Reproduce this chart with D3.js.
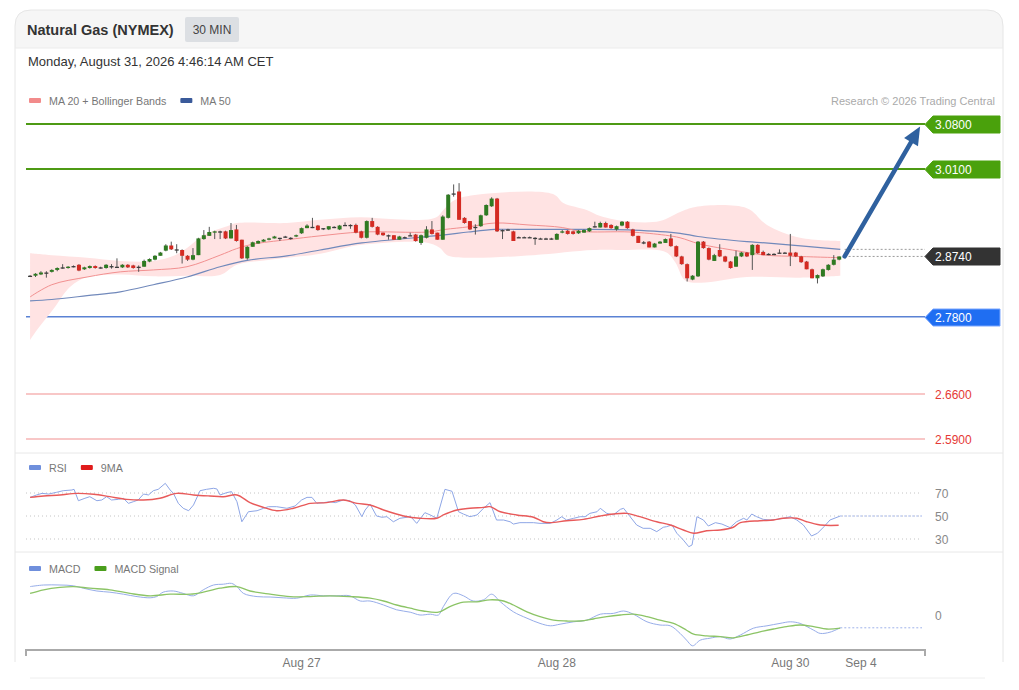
<!DOCTYPE html>
<html>
<head>
<meta charset="UTF-8">
<title>Natural Gas (NYMEX) 30 MIN</title>
<script src="https://cdn.jsdelivr.net/npm/d3@7"></script>
<style>
    body {
        margin: 0;
        background: #fff;
        font-family: "Liberation Sans", Arial, sans-serif;
    }
    svg text {
        font-family: "Liberation Sans", Arial, sans-serif;
    }
</style>
</head>
<body>
<svg id="chart" width="1019" height="690"></svg>
<script>
    // candles, 30 min each: [open, high, low, close]
    var ohlc = [
        [2.843,2.845,2.842,2.844],[2.844,2.848,2.842,2.847],[2.846,2.851,2.845,2.849],[2.849,2.851,2.841,2.848],
        [2.850,2.854,2.849,2.853],[2.853,2.857,2.851,2.856],[2.856,2.862,2.855,2.857],[2.856,2.859,2.855,2.858],
        [2.858,2.860,2.857,2.859],[2.861,2.862,2.851,2.852],[2.854,2.858,2.853,2.857],[2.856,2.860,2.855,2.859],
        [2.859,2.860,2.855,2.856],[2.857,2.858,2.855,2.857],[2.856,2.862,2.855,2.861],[2.858,2.862,2.855,2.859],
        [2.858,2.871,2.857,2.858],[2.857,2.862,2.856,2.861],[2.861,2.862,2.856,2.857],[2.860,2.861,2.855,2.856],
        [2.858,2.860,2.850,2.858],[2.858,2.869,2.858,2.867],[2.866,2.871,2.865,2.870],[2.869,2.876,2.868,2.875],
        [2.875,2.881,2.875,2.880],[2.883,2.893,2.882,2.891],[2.891,2.897,2.884,2.885],[2.885,2.893,2.879,2.884],
        [2.884,2.885,2.863,2.875],[2.875,2.876,2.867,2.869],[2.869,2.887,2.868,2.876],[2.876,2.903,2.876,2.902],
        [2.901,2.915,2.900,2.907],[2.906,2.920,2.906,2.912],[2.911,2.914,2.901,2.913],[2.913,2.914,2.901,2.912],
        [2.913,2.914,2.901,2.902],[2.902,2.926,2.902,2.915],[2.916,2.923,2.897,2.898],[2.900,2.900,2.870,2.871],
        [2.871,2.890,2.869,2.889],[2.889,2.897,2.889,2.896],[2.894,2.899,2.894,2.898],[2.897,2.901,2.897,2.900],
        [2.900,2.903,2.899,2.902],[2.902,2.906,2.902,2.905],[2.903,2.903,2.898,2.902],[2.904,2.906,2.903,2.905],
        [2.903,2.904,2.900,2.903],[2.905,2.908,2.904,2.907],[2.910,2.919,2.909,2.918],[2.918,2.924,2.918,2.922],
        [2.920,2.934,2.918,2.919],[2.922,2.923,2.914,2.915],[2.918,2.918,2.915,2.917],[2.916,2.921,2.915,2.921],
        [2.919,2.921,2.918,2.920],[2.916,2.923,2.915,2.922],[2.923,2.927,2.922,2.923],[2.923,2.924,2.917,2.922],
        [2.923,2.925,2.910,2.911],[2.913,2.914,2.902,2.903],[2.903,2.930,2.902,2.929],[2.929,2.934,2.919,2.920],
        [2.920,2.921,2.907,2.908],[2.911,2.911,2.906,2.907],[2.907,2.908,2.900,2.907],[2.907,2.907,2.900,2.900],
        [2.900,2.906,2.900,2.905],[2.904,2.905,2.902,2.903],[2.907,2.911,2.906,2.907],[2.908,2.909,2.897,2.898],
        [2.895,2.908,2.892,2.907],[2.903,2.921,2.902,2.916],[2.916,2.929,2.908,2.909],[2.911,2.911,2.900,2.900],
        [2.900,2.938,2.900,2.936],[2.934,2.971,2.933,2.970],[2.972,2.986,2.967,2.971],[2.975,2.988,2.931,2.931],
        [2.934,2.935,2.925,2.926],[2.929,2.929,2.915,2.916],[2.920,2.924,2.908,2.919],[2.921,2.939,2.920,2.938],
        [2.938,2.955,2.937,2.954],[2.952,2.966,2.951,2.964],[2.964,2.965,2.912,2.913],[2.915,2.916,2.901,2.914],
        [2.916,2.917,2.914,2.915],[2.913,2.914,2.898,2.898],[2.904,2.905,2.903,2.903],[2.904,2.905,2.903,2.904],
        [2.904,2.905,2.903,2.903],[2.903,2.904,2.892,2.902],[2.902,2.903,2.901,2.901],[2.902,2.903,2.900,2.901],
        [2.901,2.903,2.900,2.902],[2.900,2.910,2.900,2.909],[2.911,2.915,2.910,2.913],[2.914,2.915,2.908,2.909],
        [2.913,2.914,2.908,2.909],[2.910,2.915,2.909,2.914],[2.911,2.916,2.911,2.915],[2.913,2.919,2.912,2.918],
        [2.921,2.928,2.919,2.920],[2.919,2.928,2.919,2.926],[2.926,2.928,2.919,2.919],[2.923,2.924,2.917,2.918],
        [2.916,2.922,2.914,2.921],[2.922,2.929,2.921,2.928],[2.928,2.929,2.917,2.918],[2.916,2.917,2.905,2.906],
        [2.906,2.906,2.895,2.895],[2.896,2.898,2.893,2.895],[2.897,2.898,2.888,2.888],[2.888,2.895,2.888,2.894],
        [2.894,2.898,2.894,2.897],[2.895,2.902,2.895,2.901],[2.902,2.909,2.889,2.890],[2.890,2.891,2.873,2.874],
        [2.874,2.875,2.861,2.862],[2.862,2.863,2.835,2.840],[2.838,2.845,2.837,2.844],[2.843,2.898,2.842,2.897],
        [2.897,2.898,2.886,2.887],[2.887,2.888,2.868,2.869],[2.867,2.878,2.867,2.876],[2.884,2.893,2.873,2.874],
        [2.874,2.875,2.865,2.866],[2.866,2.867,2.855,2.856],[2.858,2.883,2.858,2.874],[2.874,2.881,2.873,2.880],
        [2.880,2.881,2.873,2.874],[2.876,2.893,2.853,2.892],[2.892,2.893,2.878,2.879],[2.881,2.883,2.876,2.876],
        [2.878,2.879,2.876,2.877],[2.877,2.879,2.876,2.878],[2.879,2.885,2.879,2.880],[2.880,2.881,2.879,2.879],
        [2.880,2.909,2.859,2.875],[2.880,2.881,2.873,2.874],[2.874,2.875,2.864,2.865],[2.866,2.867,2.854,2.854],
        [2.854,2.855,2.840,2.840],[2.840,2.846,2.832,2.845],[2.843,2.855,2.842,2.854],[2.853,2.862,2.852,2.861],
        [2.861,2.876,2.860,2.869],[2.869,2.874,2.868,2.874]
    ];

    // indicator readings: [candle index, value]
    var ma20 = [[0,2.811],[4,2.830],[10.5,2.842],[16.6,2.850],[22.7,2.853],[28.9,2.858],[35,2.876],[38,2.886],[41,2.893],
        [47.3,2.900],[53.4,2.906],[61.1,2.912],[73.3,2.912],[76.4,2.916],[80.7,2.920],[85.6,2.926],[91.7,2.923],[98,2.919],
        [101.3,2.913],[110.5,2.912],[117,2.907],[119.7,2.903],[123,2.894],[125.8,2.889],[129.3,2.884],[135.4,2.876],
        [141.4,2.874],[149.2,2.872]];
    var bbUpper = [[0,2.879],[4,2.876],[10.5,2.872],[16.6,2.867],[22.7,2.867],[26.7,2.876],[28.9,2.887],[31.9,2.907],
        [36.3,2.921],[38.1,2.926],[47.3,2.926],[53.4,2.931],[60.8,2.935],[67.2,2.932],[74.6,2.934],[76.4,2.949],[78.3,2.962],
        [83.4,2.971],[96.3,2.971],[98.2,2.957],[102.6,2.946],[105,2.937],[110.5,2.928],[116,2.929],[119.7,2.943],
        [122.5,2.951],[132,2.949],[135.7,2.923],[141.8,2.903],[149.2,2.898]];
    var bbLower = [[0,2.744],[1.3,2.760],[4.2,2.791],[7.4,2.827],[10.5,2.842],[16.6,2.846],[22.7,2.843],[28.9,2.844],
        [35,2.845],[38.1,2.861],[44.2,2.869],[53.4,2.878],[61.1,2.892],[73.3,2.895],[75.5,2.887],[76.8,2.876],[80.5,2.872],
        [92.6,2.876],[103.7,2.884],[108.7,2.884],[117,2.881],[118.8,2.865],[120.6,2.837],[123.4,2.833],[132,2.842],
        [141.8,2.841],[149.2,2.844]];
    var ma50 = [[0,2.805],[4,2.807],[10.5,2.813],[16.6,2.819],[22.7,2.830],[28.9,2.842],[35,2.858],[40,2.868],[47.3,2.875],
        [53.4,2.884],[61.1,2.895],[75.9,2.907],[80.7,2.912],[85.6,2.916],[91.7,2.916],[100.4,2.916],[110.9,2.915],
        [119.7,2.910],[123,2.905],[132,2.897],[135.4,2.895],[149.2,2.885]];

    var rsi = [[0,66.2],[1.2,68.3],[2.2,69.7],[3.4,69.1],[4.9,70.6],[6.1,72.0],[7.7,72.6],[8.1,73.2],[8.9,63.3],[10.1,65.4],
        [11,66.8],[12.3,63.3],[13.2,63.9],[14.1,66.8],[15,63.9],[16.3,64.5],[17.2,65.4],[18.1,61.0],[19,62.4],[19.9,63.9],
        [20.9,69.1],[21.8,68.3],[22.7,72.0],[23.6,73.2],[24.9,78.4],[25.8,72.6],[26.4,69.7],[27.3,61.0],[28.2,56.7],
        [29.2,54.6],[30.1,59.6],[31.3,72.0],[32.5,73.2],[33.8,74.1],[34.4,73.5],[35,68.3],[36.2,70.3],[37.1,71.2],
        [38.1,62.4],[39,45.0],[40.2,53.7],[41.8,54.6],[43,56.7],[43.9,58.1],[45.4,58.1],[47.3,56.7],[48.8,58.7],[50,63.9],
        [51,66.2],[51.9,66.2],[52.8,61.0],[54,61.6],[55.2,62.4],[56.2,61.6],[57.7,63.9],[58.9,63.3],[59.9,59.6],[61.1,49.4],
        [61.7,55.2],[62.6,60.4],[63.8,50.0],[64.8,48.9],[65.7,49.4],[66.9,45.0],[68.1,48.0],[69.4,48.9],[70,50.0],
        [71.2,43.6],[72.7,52.9],[73.7,50.9],[74.9,48.0],[76.4,73.2],[77.7,71.5],[78.9,53.7],[79.8,51.7],[81,49.4],
        [82.3,50.9],[83.5,56.7],[84.7,61.6],[85.9,46.5],[87.2,46.5],[88.4,45.0],[89,43.0],[90.2,44.2],[91.5,44.2],
        [92.7,44.2],[93.9,43.6],[95.8,43.6],[97,46.5],[97.9,49.4],[98.8,46.5],[100.1,48.0],[101.3,49.4],[102.2,49.4],
        [103.1,52.3],[104.4,53.7],[105,56.7],[106.2,52.3],[107.4,50.9],[108.7,55.8],[109.3,56.7],[110.5,49.4],[111.7,42.2],
        [112.9,39.3],[114.2,39.3],[115.4,36.4],[116.6,40.2],[117.2,40.7],[118.2,42.2],[119.1,35.0],[120.3,29.1],
        [121.3,23.3],[121.9,24.8],[122.8,49.4],[124,46.5],[124.9,41.3],[126.2,44.2],[127.4,43.0],[128.9,39.9],[130.1,45.0],
        [131.4,48.0],[132,46.5],[132.9,51.7],[133.8,49.4],[135,47.1],[136.3,46.5],[137.5,47.1],[138.7,48.0],[140,49.4],
        [141.2,46.5],[142.4,42.2],[143.9,32.6],[145,35.0],[146.2,40.7],[147.3,46.5],[149.2,50.0]];
    var rsiMa = [[0,66.2],[2.5,67.4],[5.5,68.3],[8.6,69.7],[11.7,68.9],[14.7,66.8],[17.8,64.5],[20.9,63.9],[23.9,65.4],
        [27,69.7],[30.1,68.3],[33.1,67.4],[35.6,66.8],[38.1,68.3],[40.5,61.6],[43,57.5],[45.4,54.6],[48.5,56.7],[51.6,61.0],
        [54.6,61.6],[57.7,63.9],[60.2,61.0],[62.6,59.6],[65.1,55.2],[68.8,50.0],[71.8,48.0],[74.9,48.0],[76.1,50.9],
        [78.6,55.2],[81,56.7],[83.5,57.5],[84.7,58.1],[86.6,53.7],[89.6,50.9],[92.7,48.9],[94.5,45.0],[95.8,44.2],
        [98.8,45.9],[101.9,47.1],[105,50.0],[107.4,51.7],[109.9,52.3],[112.3,49.4],[115.4,45.0],[117.9,42.2],[120.3,37.8],
        [122.2,35.0],[124.6,37.2],[127.1,37.8],[129.5,40.2],[130.8,44.2],[134.4,45.9],[136.9,46.5],[138.7,48.0],
        [141.2,48.0],[143,45.0],[145.5,42.2],[148.9,41.9]];

    var macd = [[0,0.0071],[2.5,0.0075],[5.5,0.0075],[8,0.0073],[9.8,0.0067],[12.3,0.0060],[14.7,0.0057],[17.2,0.0052],
        [19.7,0.0046],[22.1,0.0043],[23.3,0.0046],[24.5,0.0057],[26.4,0.0060],[28.2,0.0054],[30.1,0.0048],[31.9,0.0063],
        [33.8,0.0075],[35.6,0.0077],[37.1,0.0079],[38.1,0.0071],[39.3,0.0054],[41.8,0.0046],[44.2,0.0045],[46.6,0.0043],
        [49.1,0.0042],[51.6,0.0050],[54,0.0048],[56.5,0.0048],[58.9,0.0048],[60.8,0.0035],[62.6,0.0035],[65.1,0.0025],
        [67.5,0.0013],[70,0.0007],[71.8,0.0000],[73.7,0.0002],[75.2,0.0000],[76.1,0.0021],[78,0.0054],[79.8,0.0048],
        [81.6,0.0035],[83.5,0.0038],[85,0.0052],[86.6,0.0033],[89,0.0008],[91.5,-0.0008],[93.9,-0.0021],[95.8,-0.0027],
        [97.6,-0.0023],[100.1,-0.0017],[102.5,-0.0013],[105,0.0002],[107.4,0.0004],[109.3,0.0010],[111.1,0.0002],
        [113.6,-0.0017],[116,-0.0025],[117.9,-0.0027],[119.7,-0.0046],[120.9,-0.0063],[122,-0.0077],[123.4,-0.0063],
        [125.2,-0.0058],[127.1,-0.0054],[128.9,-0.0060],[130.8,-0.0050],[133.2,-0.0033],[135.7,-0.0027],[138.1,-0.0021],
        [140,-0.0017],[141.8,-0.0021],[144.3,-0.0038],[145.5,-0.0046],[147.3,-0.0043],[149.2,-0.0032]];
    var macdSignal = [[0,0.0054],[2.5,0.0063],[5.5,0.0069],[8,0.0071],[11,0.0067],[14.7,0.0063],[18.4,0.0054],[22.1,0.0048],
        [25.8,0.0052],[29.5,0.0052],[31.9,0.0057],[35,0.0067],[38.1,0.0071],[40.5,0.0060],[44.2,0.0052],[47.9,0.0046],
        [51.6,0.0046],[55.2,0.0048],[58.9,0.0046],[62.6,0.0042],[65.1,0.0035],[67.5,0.0025],[70,0.0017],[72.4,0.0010],
        [75.2,0.0007],[77.3,0.0021],[79.8,0.0032],[82.3,0.0033],[84.7,0.0038],[87.2,0.0035],[89,0.0025],[91.5,0.0008],
        [93.9,-0.0004],[96.4,-0.0013],[98.8,-0.0015],[101.3,-0.0015],[103.7,-0.0010],[106.2,-0.0004],[108.7,0.0000],
        [111.1,0.0002],[113.6,-0.0004],[116,-0.0013],[118.5,-0.0021],[120.9,-0.0038],[122.2,-0.0048],[124.6,-0.0052],
        [127.1,-0.0054],[129.5,-0.0057],[132,-0.0050],[134.4,-0.0042],[136.9,-0.0035],[139.3,-0.0029],[141.8,-0.0025],
        [144.3,-0.0029],[146.7,-0.0035],[149.2,-0.0033]];

    // key levels
    var resistances = [3.08, 3.01];
    var pivot = 2.78;
    var supports = [2.66, 2.59];
    var arrowEnd = [163.9, 3.076];

    var rsiTicks = [70, 50, 30];
    var macdTicks = [0];
    var tickIndex = [50, 97, 140, 153];
    var tickLabels = ["Aug 27", "Aug 28", "Aug 30", "Sep 4"];

    var svg = d3.select("#chart");
    var fmt = d3.format(".4f");
    var last = ohlc.length - 1;

    var x = d3.scaleLinear().domain([-0.75, 164.8]).range([26, 925]);
    var y = d3.scaleLinear().domain([2.59, 3.08]).range([439, 124]);
    var yRsi = d3.scaleLinear().domain([30, 70]).range([539, 493]);
    var yMacd = d3.scaleLinear().domain([0, 0.008]).range([615, 583]);

    // card frame + header
    svg.append("path")
        .attr("d", "M15,48 V26 Q15,10 31,10 H987 Q1003,10 1003,26 V48 Z")
        .attr("fill", "#f6f6f6");
    svg.append("path")
        .attr("d", "M15,662 V26 Q15,10 31,10 H987 Q1003,10 1003,26 V662")
        .attr("fill", "none").attr("stroke", "#e6e6e6");
    svg.append("line").attr("x1", 15).attr("x2", 1003).attr("y1", 48).attr("y2", 48).attr("stroke", "#ececec");
    [453, 552].forEach(function (yy) {
        svg.append("line").attr("x1", 15).attr("x2", 1003).attr("y1", yy).attr("y2", yy).attr("stroke", "#e8e8e8");
    });
    svg.append("line").attr("x1", 30).attr("x2", 985).attr("y1", 678).attr("y2", 678).attr("stroke", "#eeeeee");

    svg.append("text").attr("x", 27).attr("y", 35).attr("font-size", 14.5).attr("font-weight", "bold")
        .attr("fill", "#333").text("Natural Gas (NYMEX)");
    svg.append("rect").attr("x", 185).attr("y", 17).attr("width", 54).attr("height", 25).attr("rx", 2)
        .attr("fill", "#dcdfe3");
    svg.append("text").attr("x", 212).attr("y", 34).attr("text-anchor", "middle").attr("font-size", 12)
        .attr("fill", "#444").text("30 MIN");
    svg.append("text").attr("x", 28).attr("y", 66).attr("font-size", 13).attr("fill", "#333")
        .text("Monday, August 31, 2026 4:46:14 AM CET");

    function legend(items, yy) {
        var xx = 29;
        items.forEach(function (it) {
            svg.append("rect").attr("x", xx).attr("y", yy - 3).attr("width", 12).attr("height", 5).attr("rx", 1)
                .attr("fill", it[1]);
            var t = svg.append("text").attr("x", xx + 20).attr("y", yy + 4).attr("font-size", 10.7)
                .attr("fill", "#777").text(it[0]);
            xx += 20 + t.node().getComputedTextLength() + 14;
        });
    }
    legend([["MA 20 + Bollinger Bands", "#f28b8b"], ["MA 50", "#3a5a9a"]], 101);
    legend([["RSI", "#6f8fdc"], ["9MA", "#e01b1b"]], 468);
    legend([["MACD", "#6f8fdc"], ["MACD Signal", "#4a9e1c"]], 569);

    svg.append("text").attr("x", 995).attr("y", 105).attr("text-anchor", "end").attr("font-size", 11)
        .attr("fill", "#aaa").text("Research \u00a9 2026 Trading Central");

    // level lines
    function tag(v, fill, stroke) {
        var yy = Math.round(y(v)) + 0.5;
        svg.append("polygon")
            .attr("points", [[925, yy], [933, yy - 8.5], [1000, yy - 8.5], [1000, yy + 8.5], [933, yy + 8.5]].join(" "))
            .attr("fill", fill).attr("stroke", stroke || fill);
        svg.append("text").attr("x", 935).attr("y", yy + 4.5).attr("font-size", 12).attr("fill", "#fff").text(fmt(v));
    }
    resistances.forEach(function (v) {
        svg.append("line").attr("x1", 26).attr("x2", 925).attr("y1", y(v)).attr("y2", y(v))
            .attr("stroke", "#4d9a14").attr("stroke-width", 2);
        tag(v, "#4aa10c");
    });
    svg.append("line").attr("x1", 26).attr("x2", 925).attr("y1", y(pivot)).attr("y2", y(pivot))
        .attr("stroke", "#5a82d4").attr("stroke-width", 1.5);
    tag(pivot, "#1f6ef2", "#7aa6ff");
    supports.forEach(function (v) {
        svg.append("line").attr("x1", 26).attr("x2", 925).attr("y1", y(v)).attr("y2", y(v))
            .attr("stroke", "#f6b4b4").attr("stroke-width", 1.5);
        svg.append("text").attr("x", 935).attr("y", y(v) + 4.5).attr("font-size", 12).attr("fill", "#e53935")
            .text(fmt(v));
    });

    // bollinger band + moving averages
    var curve = d3.curveCatmullRom.alpha(0.5);
    var priceLine = d3.line().x(function (d) { return x(d[0]); }).y(function (d) { return y(d[1]); }).curve(curve);
    var upPath = priceLine(bbUpper);
    var lowPath = priceLine(bbLower.slice().reverse());
    svg.append("path").attr("d", upPath + "L" + lowPath.slice(1) + "Z").attr("fill", "#ffe3e3");
    svg.append("path").attr("d", priceLine(ma50)).attr("fill", "none").attr("stroke", "#7189bb").attr("stroke-width", 1.2);
    svg.append("path").attr("d", priceLine(ma20)).attr("fill", "none").attr("stroke", "#f29090").attr("stroke-width", 1);

    // candles
    var bw = 4;
    var g = svg.append("g");
    g.selectAll("line").data(ohlc).join("line")
        .attr("x1", function (d, i) { return x(i); }).attr("x2", function (d, i) { return x(i); })
        .attr("y1", function (d) { return y(d[1]); }).attr("y2", function (d) { return y(d[2]); })
        .attr("stroke", "#555").attr("stroke-width", 1);
    g.selectAll("rect").data(ohlc).join("rect")
        .attr("x", function (d, i) { return x(i) - bw / 2; })
        .attr("width", bw)
        .attr("y", function (d) { return y(Math.max(d[0], d[3])); })
        .attr("height", function (d) { return Math.max(1.3, Math.abs(y(d[0]) - y(d[3]))); })
        .attr("fill", function (d) {
            if (Math.abs(d[3] - d[0]) < 0.0015) return "#3c3c3c";
            return d[3] > d[0] ? "#2f7a22" : "#d42a22";
        });

    // current price markers
    var lastClose = ohlc[last][3];
    var lastMa50 = ma50[ma50.length - 1][1];
    [lastClose, lastMa50].forEach(function (v) {
        svg.append("line").attr("x1", x(last + 1)).attr("x2", 925).attr("y1", y(v)).attr("y2", y(v))
            .attr("stroke", "#9a9a9a").attr("stroke-dasharray", "2,2");
    });
    tag(lastClose, "#333");

    // target arrow
    var ax0 = x(last + 1), ay0 = y(lastClose), ax1 = x(arrowEnd[0]), ay1 = y(arrowEnd[1]);
    var ang = Math.atan2(ay1 - ay0, ax1 - ax0);
    var hl = 18, hw = 8;
    var bx = ax1 - hl * Math.cos(ang), by = ay1 - hl * Math.sin(ang);
    svg.append("line").attr("x1", ax0).attr("y1", ay0).attr("x2", bx).attr("y2", by)
        .attr("stroke", "#2f619f").attr("stroke-width", 4.5).attr("stroke-linecap", "round");
    svg.append("polygon").attr("fill", "#2f619f")
        .attr("points", [[ax1, ay1],
            [bx + hw * Math.sin(ang), by - hw * Math.cos(ang)],
            [bx - hw * Math.sin(ang), by + hw * Math.cos(ang)]].join(" "));

    // RSI panel
    rsiTicks.forEach(function (v) {
        svg.append("line").attr("x1", 26).attr("x2", 922).attr("y1", yRsi(v)).attr("y2", yRsi(v))
            .attr("stroke", "#c4c4c4").attr("stroke-dasharray", "1,3");
        svg.append("text").attr("x", 935).attr("y", yRsi(v) + 4.5).attr("font-size", 12).attr("fill", "#888").text(v);
    });
    var rsiLine = d3.line().x(function (d) { return x(d[0]); }).y(function (d) { return yRsi(d[1]); });
    svg.append("path").attr("d", rsiLine(rsi)).attr("fill", "none").attr("stroke", "#8ea6e6").attr("stroke-width", 1);
    svg.append("path").attr("d", rsiLine.curve(curve)(rsiMa)).attr("fill", "none").attr("stroke", "#e85a5a")
        .attr("stroke-width", 1.4);
    var lastRsi = rsi[rsi.length - 1];
    svg.append("line").attr("x1", x(lastRsi[0])).attr("x2", 922).attr("y1", yRsi(lastRsi[1])).attr("y2", yRsi(lastRsi[1]))
        .attr("stroke", "#9fb2ea").attr("stroke-dasharray", "2,2");

    // MACD panel
    macdTicks.forEach(function (v) {
        svg.append("text").attr("x", 935).attr("y", yMacd(v) + 4.5).attr("font-size", 12).attr("fill", "#888").text(v);
    });
    var macdLine = d3.line().x(function (d) { return x(d[0]); }).y(function (d) { return yMacd(d[1]); }).curve(curve);
    svg.append("path").attr("d", macdLine(macd)).attr("fill", "none").attr("stroke", "#97ade9").attr("stroke-width", 1);
    svg.append("path").attr("d", macdLine(macdSignal)).attr("fill", "none").attr("stroke", "#8cc466")
        .attr("stroke-width", 1.3);
    var lastMacd = macd[macd.length - 1];
    svg.append("line").attr("x1", x(lastMacd[0])).attr("x2", 922).attr("y1", yMacd(lastMacd[1])).attr("y2", yMacd(lastMacd[1]))
        .attr("stroke", "#9fb2ea").attr("stroke-dasharray", "2,2");

    // time axis
    svg.append("path").attr("d", "M26,656 V650 H925 V656").attr("fill", "none")
        .attr("stroke", "#aaa").attr("stroke-width", 2);
    tickIndex.forEach(function (t, k) {
        svg.append("text").attr("x", x(t)).attr("y", 667).attr("text-anchor", "middle").attr("font-size", 12)
            .attr("fill", "#777").text(tickLabels[k]);
    });
</script>
</body>
</html>
